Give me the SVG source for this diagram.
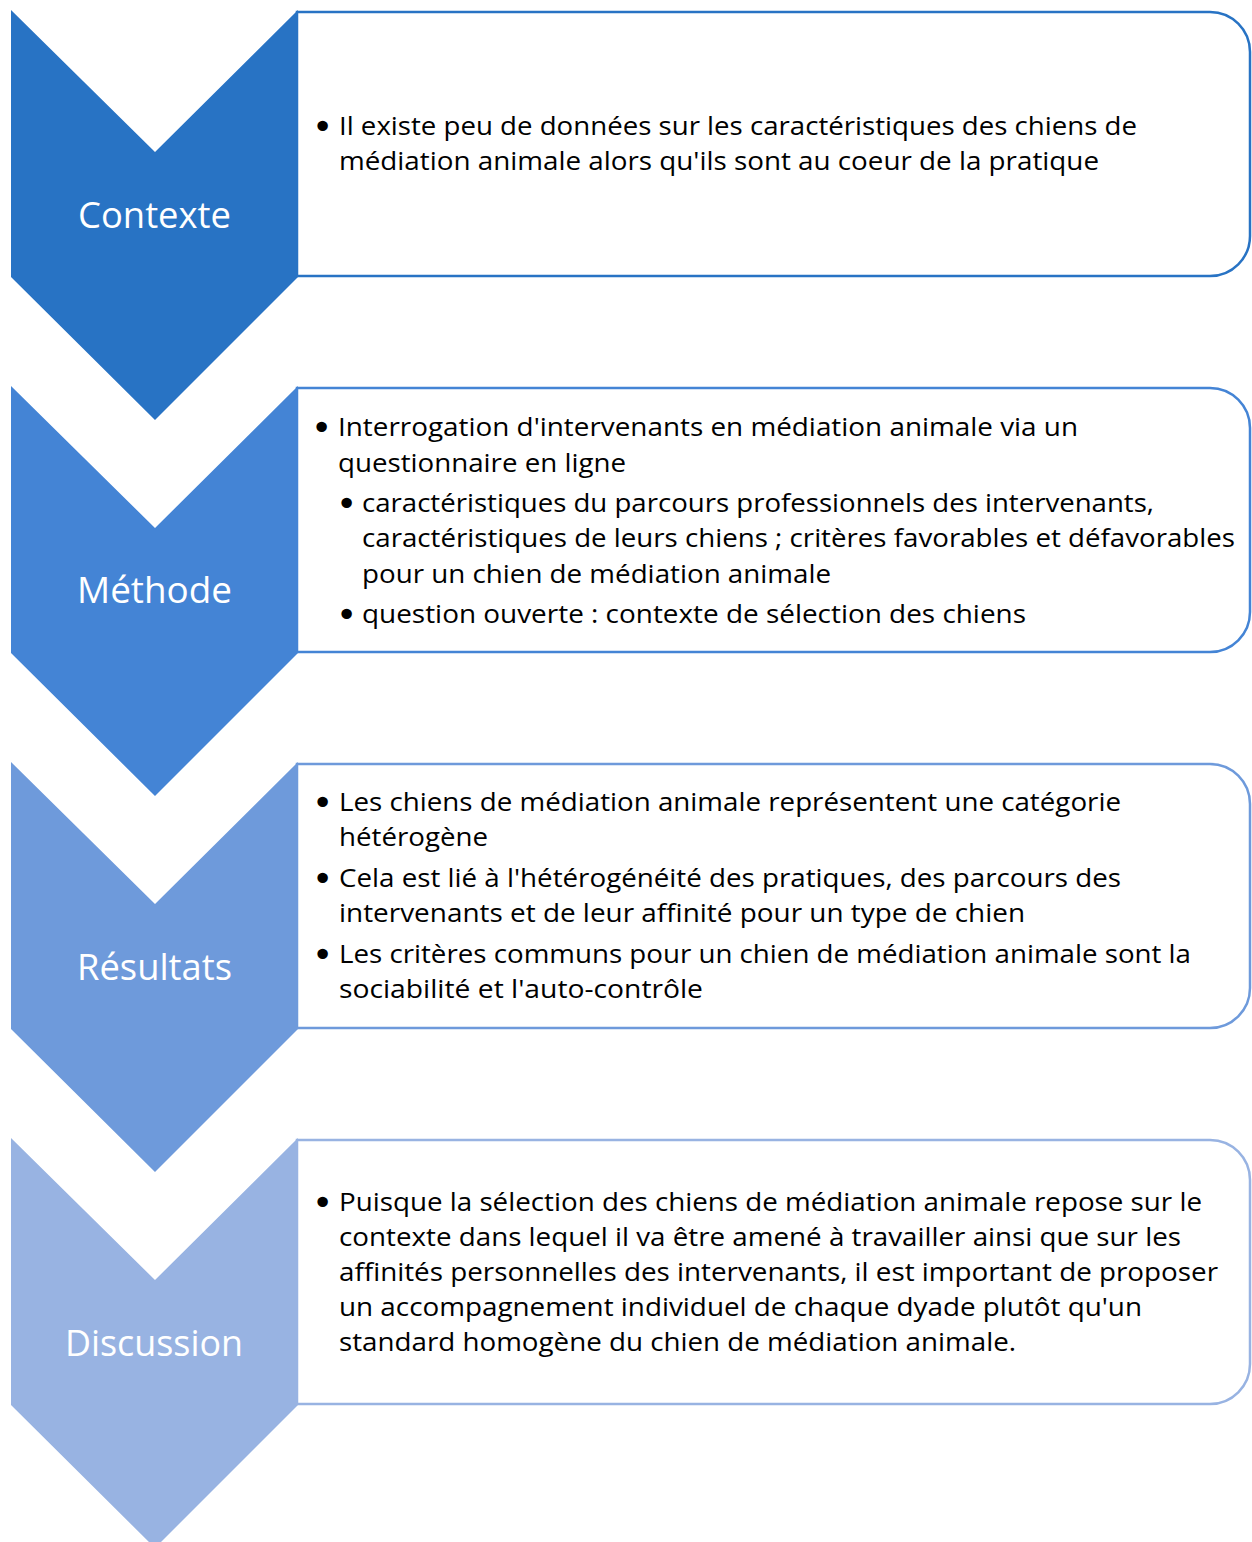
<svg xmlns="http://www.w3.org/2000/svg" width="1252" height="1542" viewBox="0 0 1252 1542">
<style>
.box{fill:#ffffff;stroke-width:2.5}
.t{font-family:"Open Sans","Noto Sans","Liberation Sans",sans-serif;font-size:26px;fill:#000000}
.b{font-family:"DejaVu Sans",sans-serif;font-size:36px;fill:#000000}
.lbl{font-family:"Open Sans","Noto Sans","Liberation Sans",sans-serif;font-size:37px;fill:#ffffff;text-anchor:middle}
</style>
<rect width="1252" height="1542" fill="#ffffff"/>
<g id="connectors"></g>
<g id="node-contexte">
<path class="box" stroke="#2873C4" d="M297,12 H1210 A40,40 0 0 1 1250,52 V236 A40,40 0 0 1 1210,276 H297 Z"/>
<polygon fill="#2873C4" points="11,10 155,152 298,10 298,277 155,420 11,277"/>
<text class="lbl" x="154.5" y="228" textLength="153" lengthAdjust="spacingAndGlyphs">Contexte</text>
<text class="b" x="312" y="139">•</text>
<text class="t" x="339" y="135" textLength="798" lengthAdjust="spacingAndGlyphs">Il existe peu de données sur les caractéristiques des chiens de</text>
<text class="t" x="339" y="170" textLength="760" lengthAdjust="spacingAndGlyphs">médiation animale alors qu'ils sont au coeur de la pratique</text>
</g>
<g id="node-methode">
<path class="box" stroke="#4484D5" d="M297,388 H1210 A40,40 0 0 1 1250,428 V612 A40,40 0 0 1 1210,652 H297 Z"/>
<polygon fill="#4484D5" points="11,386 155,528 298,386 298,653 155,796 11,653"/>
<text class="lbl" x="154.5" y="603" textLength="155" lengthAdjust="spacingAndGlyphs">Méthode</text>
<text class="b" x="311" y="440">•</text>
<text class="t" x="338" y="436" textLength="740" lengthAdjust="spacingAndGlyphs">Interrogation d'intervenants en médiation animale via un</text>
<text class="t" x="338" y="472" textLength="288" lengthAdjust="spacingAndGlyphs">questionnaire en ligne</text>
<text class="b" x="336" y="516">•</text>
<text class="t" x="362" y="512" textLength="792" lengthAdjust="spacingAndGlyphs">caractéristiques du parcours professionnels des intervenants,</text>
<text class="t" x="362" y="547" textLength="873" lengthAdjust="spacingAndGlyphs">caractéristiques de leurs chiens ; critères favorables et défavorables</text>
<text class="t" x="362" y="583" textLength="469" lengthAdjust="spacingAndGlyphs">pour un chien de médiation animale</text>
<text class="b" x="336" y="627">•</text>
<text class="t" x="362" y="623" textLength="664" lengthAdjust="spacingAndGlyphs">question ouverte : contexte de sélection des chiens</text>
</g>
<g id="node-resultats">
<path class="box" stroke="#6E9ADB" d="M297,764 H1210 A40,40 0 0 1 1250,804 V988 A40,40 0 0 1 1210,1028 H297 Z"/>
<polygon fill="#6E9ADB" points="11,762 155,904 298,762 298,1029 155,1172 11,1029"/>
<text class="lbl" x="154.5" y="980" textLength="155" lengthAdjust="spacingAndGlyphs">Résultats</text>
<text class="b" x="312" y="815">•</text>
<text class="t" x="339" y="811" textLength="782" lengthAdjust="spacingAndGlyphs">Les chiens de médiation animale représentent une catégorie</text>
<text class="t" x="339" y="846" textLength="149" lengthAdjust="spacingAndGlyphs">hétérogène</text>
<text class="b" x="312" y="891">•</text>
<text class="t" x="339" y="887" textLength="782" lengthAdjust="spacingAndGlyphs">Cela est lié à l'hétérogénéité des pratiques, des parcours des</text>
<text class="t" x="339" y="922" textLength="686" lengthAdjust="spacingAndGlyphs">intervenants et de leur affinité pour un type de chien</text>
<text class="b" x="312" y="967">•</text>
<text class="t" x="339" y="963" textLength="852" lengthAdjust="spacingAndGlyphs">Les critères communs pour un chien de médiation animale sont la</text>
<text class="t" x="339" y="998" textLength="364" lengthAdjust="spacingAndGlyphs">sociabilité et l'auto-contrôle</text>
</g>
<g id="node-discussion">
<path class="box" stroke="#98B3E2" d="M297,1140 H1210 A40,40 0 0 1 1250,1180 V1364 A40,40 0 0 1 1210,1404 H297 Z"/>
<polygon fill="#98B3E2" points="11,1138 155,1280 298,1138 298,1405 155,1548 11,1405"/>
<text class="lbl" x="154" y="1356" textLength="178" lengthAdjust="spacingAndGlyphs">Discussion</text>
<text class="b" x="312" y="1215">•</text>
<text class="t" x="339" y="1211" textLength="863" lengthAdjust="spacingAndGlyphs">Puisque la sélection des chiens de médiation animale repose sur le</text>
<text class="t" x="339" y="1246" textLength="842" lengthAdjust="spacingAndGlyphs">contexte dans lequel il va être amené à travailler ainsi que sur les</text>
<text class="t" x="339" y="1281" textLength="879" lengthAdjust="spacingAndGlyphs">affinités personnelles des intervenants, il est important de proposer</text>
<text class="t" x="339" y="1316" textLength="803" lengthAdjust="spacingAndGlyphs">un accompagnement individuel de chaque dyade plutôt qu'un</text>
<text class="t" x="339" y="1351" textLength="677" lengthAdjust="spacingAndGlyphs">standard homogène du chien de médiation animale.</text>
</g>
</svg>
